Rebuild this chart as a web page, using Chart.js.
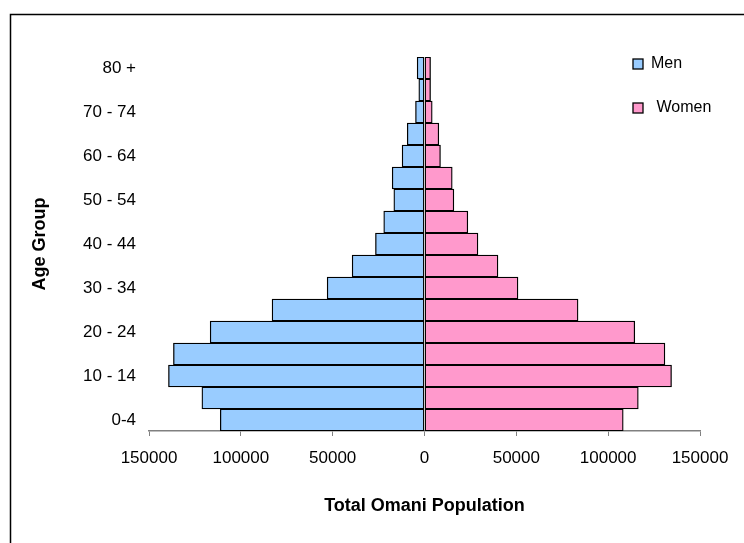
<!DOCTYPE html>
<html>
<head>
<meta charset="utf-8">
<script src="https://cdn.jsdelivr.net/npm/chart.js@4"></script>
<style>
  html, body { margin: 0; padding: 0; background: #fff; }
  #wrap { width: 744px; height: 543px; position: relative; }
</style>
</head>
<body>
<div id="wrap"><canvas id="pyramid" width="744" height="543"></canvas></div>
<script>
// Age groups, bottom to top
const ageGroups = ['0-4', '5 - 9', '10 - 14', '15 - 19', '20 - 24', '25 - 29', '30 - 34', '35 - 39',
  '40 - 44', '45 - 49', '50 - 54', '55 - 59', '60 - 64', '65 - 69', '70 - 74', '75 - 79', '80 +'];

// Population by age group
const men = [111200, 121200, 139400, 136700, 116700, 83000, 53000, 39400,
  26700, 22200, 16700, 17600, 12200, 9400, 4900, 3100, 4000];
const women = [108200, 116400, 134500, 130900, 114500, 83600, 50900, 40000,
  29100, 23600, 16000, 15100, 8700, 7800, 4200, 3300, 3300];

const xTicks = [-150000, -100000, -50000, 0, 50000, 100000, 150000];

const FONT = "'Liberation Sans', Arial, sans-serif";

// outer frame + legend in the top right corner
const frameAndLegend = {
  id: 'frameAndLegend',
  afterDraw(chart) {
    const ctx = chart.ctx;
    ctx.save();
    ctx.strokeStyle = '#000';
    ctx.lineWidth = 1.5;
    ctx.strokeRect(10.5, 14.5, 800, 600);

    const items = [
      { ds: chart.data.datasets[0], y: 59, tx: 651 },
      { ds: chart.data.datasets[1], y: 103, tx: 652 }
    ];
    ctx.font = '16px ' + FONT;
    ctx.textBaseline = 'middle';
    items.forEach(it => {
      ctx.fillStyle = it.ds.backgroundColor;
      ctx.fillRect(633, it.y, 10, 10);
      ctx.lineWidth = 1.3;
      ctx.strokeStyle = '#000';
      ctx.strokeRect(633, it.y, 10, 10);
      ctx.fillStyle = '#000';
      ctx.fillText(it.ds.label === 'Women' ? ' Women' : it.ds.label, it.tx, it.y + 5);
    });
    ctx.restore();
  }
};

new Chart(document.getElementById('pyramid'), {
  type: 'bar',
  data: {
    labels: ageGroups,
    datasets: [
      {
        label: 'Men',
        data: men.map(v => -v),
        backgroundColor: '#99CCFF',
        borderColor: '#000',
        borderWidth: 1.3,
        borderSkipped: false
      },
      {
        label: 'Women',
        data: women,
        backgroundColor: '#FF99CC',
        borderColor: '#000',
        borderWidth: 1.3,
        borderSkipped: false
      }
    ]
  },
  options: {
    indexAxis: 'y',
    responsive: false,
    animation: false,
    barPercentage: 1,
    categoryPercentage: 1,
    layout: { padding: { left: 10, top: 57, right: 44, bottom: 0 } },
    plugins: {
      legend: { display: false },
      tooltip: { enabled: false }
    },
    scales: {
      x: {
        stacked: true,
        min: -150000,
        max: 150000,
        afterBuildTicks: scale => { scale.ticks = xTicks.map(v => ({ value: v })); },
        afterFit: scale => { scale.height = 112; },
        ticks: {
          color: '#000',
          font: { family: FONT, size: 17 },
          padding: 12,
          maxRotation: 0,
          callback: v => String(Math.abs(v))
        },
        grid: {
          drawOnChartArea: false,
          drawTicks: true,
          tickLength: 5,
          color: '#808080'
        },
        border: { display: true, color: '#808080', width: 1.5 },
        title: {
          display: true,
          text: 'Total Omani Population',
          color: '#000',
          font: { family: FONT, size: 18, weight: 'bold' },
          padding: { top: 0, bottom: 26 }
        }
      },
      y: {
        stacked: true,
        reverse: true,
        afterFit: scale => { scale.width = 139; },
        ticks: {
          autoSkip: false,
          color: '#000',
          font: { family: FONT, size: 17 },
          padding: 13,
          callback: function (v, i) { return i % 2 === 0 ? this.getLabelForValue(v) : ''; }
        },
        grid: { display: false, drawTicks: false },
        border: { display: false },
        title: {
          display: true,
          text: 'Age Group',
          color: '#000',
          font: { family: FONT, size: 18, weight: 'bold' },
          padding: { top: 19, bottom: 0 }
        }
      }
    }
  },
  plugins: [frameAndLegend]
});
</script>
</body>
</html>
